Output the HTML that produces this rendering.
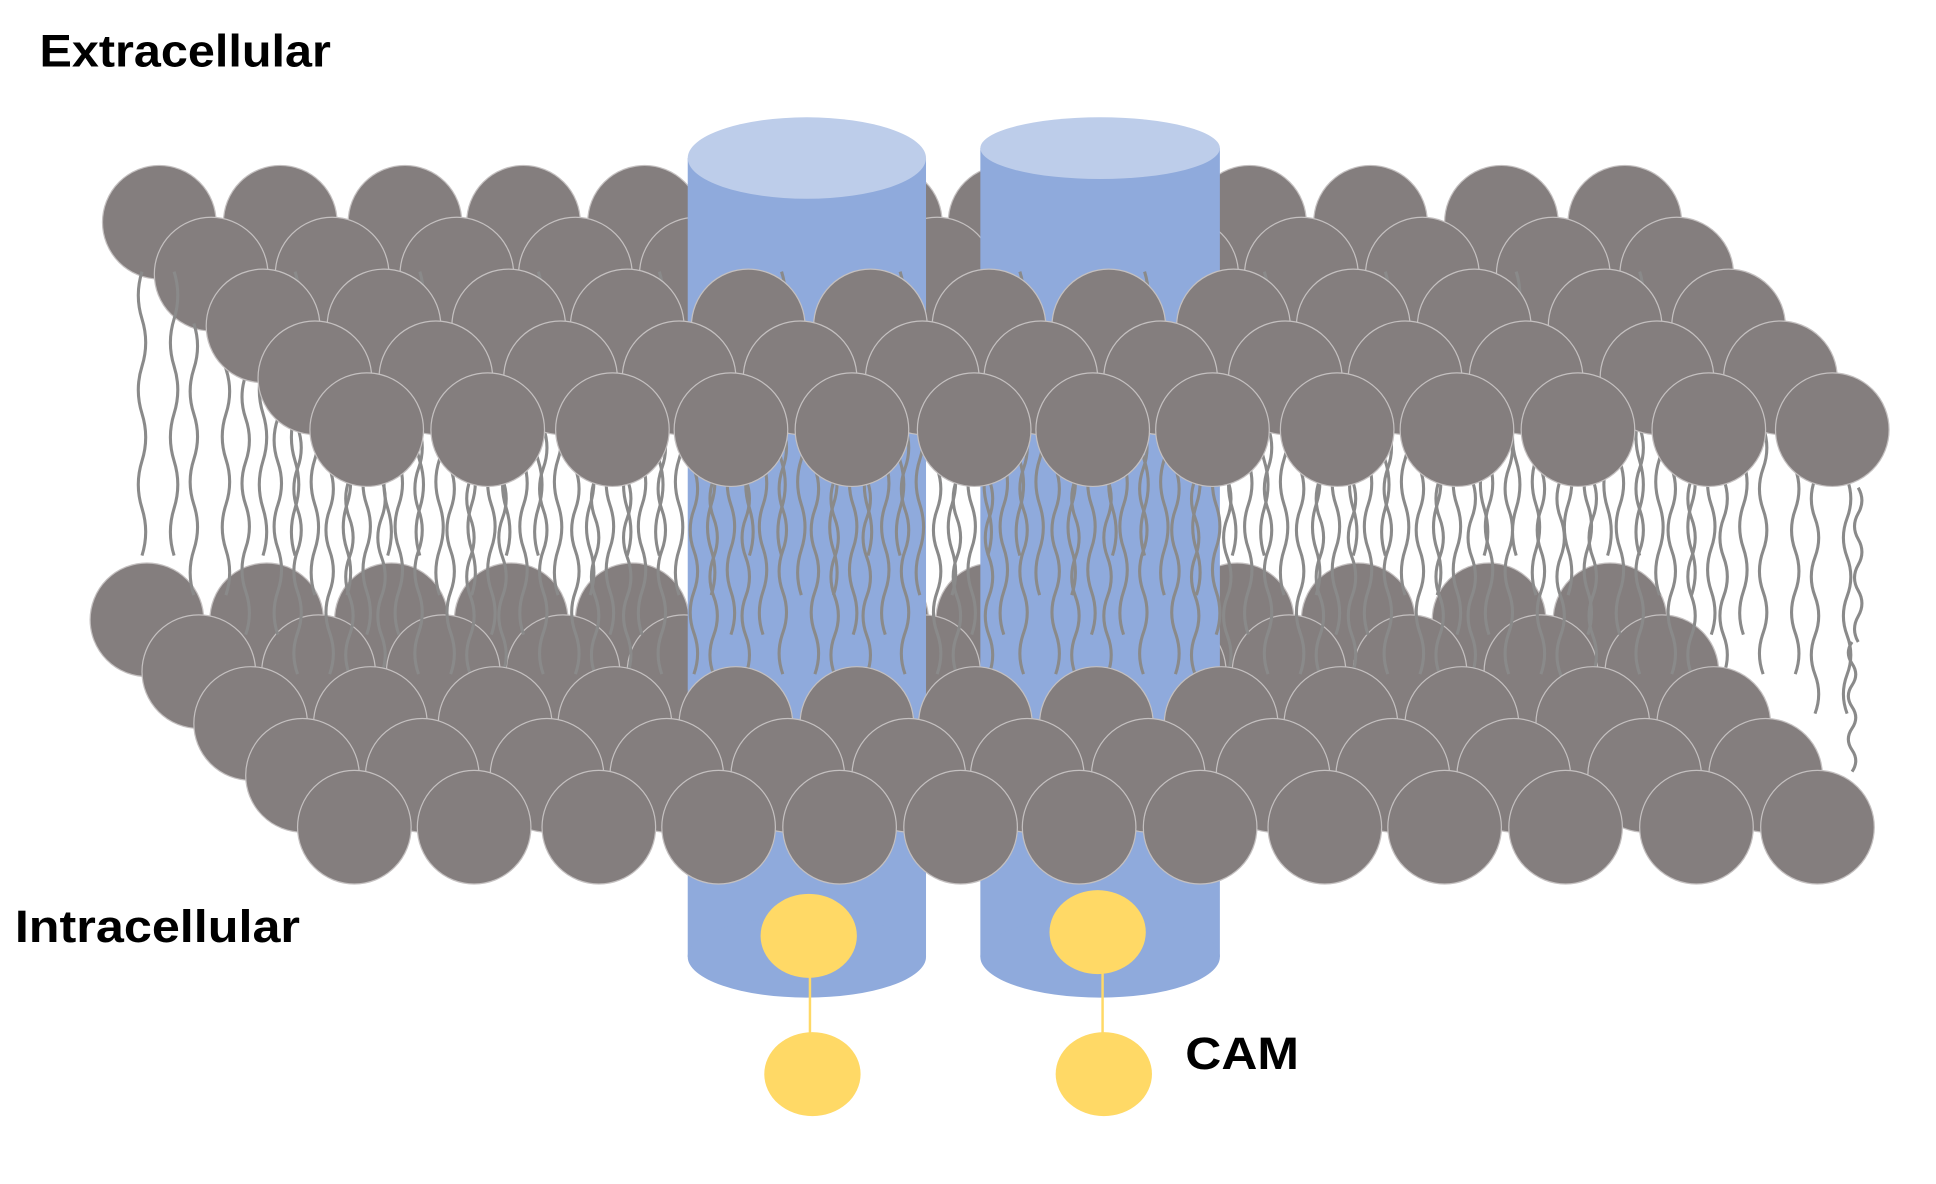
<!DOCTYPE html>
<html><head><style>
html,body{margin:0;padding:0;background:#fff;width:1936px;height:1184px;overflow:hidden}
svg{display:block}
text{font-family:"Liberation Sans",sans-serif;font-weight:bold;fill:#000}
</style></head><body>
<svg id="s" width="1936" height="1184" viewBox="0 0 1568 959" preserveAspectRatio="none" xmlns="http://www.w3.org/2000/svg">
<g id="topBack"></g>
<g id="bottomBack"></g>
<g id="cyl">
<rect x="557" y="128" width="193" height="647" fill="#8faadc"/>
<ellipse cx="653.5" cy="775" rx="96.5" ry="33" fill="#8faadc"/>
<ellipse cx="653.5" cy="128" rx="96.5" ry="33" fill="#bdcdea"/>
<rect x="794" y="120" width="194" height="655" fill="#8faadc"/>
<ellipse cx="891" cy="775" rx="97" ry="33" fill="#8faadc"/>
<ellipse cx="891" cy="120" rx="97" ry="25" fill="#bdcdea"/>
</g>
<g id="tails"></g>
<g id="topFront"></g>
<g id="bottomFront"></g>
<g>
<line x1="656" y1="790" x2="656" y2="840" stroke="#ffd966" stroke-width="2"/>
<line x1="893" y1="788" x2="893" y2="840" stroke="#ffd966" stroke-width="2"/>
<ellipse cx="655" cy="758" rx="39" ry="34" fill="#ffd966"/>
<ellipse cx="889" cy="755" rx="39" ry="34" fill="#ffd966"/>
<ellipse cx="658" cy="870" rx="39" ry="34" fill="#ffd966"/>
<ellipse cx="894" cy="870" rx="39" ry="34" fill="#ffd966"/>
</g>
<text x="32" y="54" font-size="37" textLength="236" lengthAdjust="spacingAndGlyphs">Extracellular</text>
<text x="12" y="763" font-size="37" textLength="231" lengthAdjust="spacingAndGlyphs">Intracellular</text>
<text x="960" y="866" font-size="37" textLength="92" lengthAdjust="spacingAndGlyphs">CAM</text>
</svg>
<script>
var NS="http://www.w3.org/2000/svg";
function circ(g,x,y){var c=document.createElementNS(NS,"circle");c.setAttribute("cx",x);c.setAttribute("cy",y);c.setAttribute("r",46);c.setAttribute("fill","#847e7e");c.setAttribute("stroke","#c4c0c0");c.setAttribute("stroke-width","1");document.getElementById(g).appendChild(c);}
var frontTop=[297,395,496,592,690,789,885,982,1083,1180,1278,1384,1484];
var frontBot=[287,384,485,582,680,778,874,972,1073,1170,1268,1374,1472];
for(var r=0;r<5;r++){
  var y=180+r*42, dx=(4-r)*42;
  for(var i=0;i<13;i++) circ(r<2?"topBack":"topFront",frontTop[i]-dx,y);
}
for(var r=0;r<5;r++){
  var y=502+r*42, dx=(4-r)*42;
  for(var i=0;i<13;i++) circ(r<2?"bottomBack":"bottomFront",frontBot[i]-dx,y);
}
var tg=document.getElementById("tails");
function tail(x,y0,y1,ph){
  var d="M"+x+" "+y0, n=6, h=(y1-y0)/n;
  for(var k=0;k<n;k++){var s=((k+ph)%2?1:-1)*6;d+=" q"+s+" "+(h/2)+" 0 "+h;}
  var p=document.createElementNS(NS,"path");p.setAttribute("d",d);p.setAttribute("fill","none");p.setAttribute("stroke","#8a8a8a");p.setAttribute("stroke-width","2.5");tg.appendChild(p);
}
for(var r=0;r<5;r++){
  var dx=(4-r)*42;
  for(var i=0;i<13;i++){
    var x=frontTop[i]-dx;
    var yt=180+r*42+40;
    tail(x-14,yt,yt+230-r*10,r);
    tail(x+12,yt,yt+230-r*10,r+1);
  }
}
tail(1505,395,520,1);tail(1500,520,625,0);
</script>
</body></html>
